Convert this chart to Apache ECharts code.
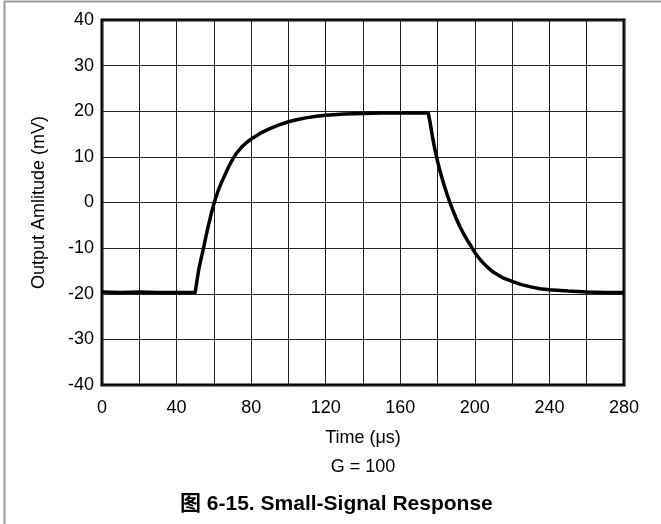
<!DOCTYPE html>
<html>
<head>
<meta charset="utf-8">
<script src="https://cdn.jsdelivr.net/npm/echarts@6/dist/echarts.min.js"></script>
<style>
html,body{margin:0;padding:0;background:#fff;}
#c{width:661px;height:524px;}
</style>
</head>
<body>
<div id="c"></div>
<script>
// Time (µs)
const timeUs = [0, 10, 20, 30, 40, 50,
  51, 52, 53, 54, 55, 56, 57, 58, 59, 60, 61, 62, 63, 64, 66, 68, 70, 72, 75, 78, 80, 85, 90, 95, 100, 105, 110, 115, 120, 130, 140, 150, 160, 170, 175,
  176, 177, 178, 179, 180, 181, 182, 183, 184, 185, 186, 187, 188, 190, 192, 194, 196, 198, 200, 203, 206, 210, 215, 220, 225, 230, 235, 240, 250, 260, 270, 280];
// Output amplitude (mV)
const outputMv = [-19.6, -19.7, -19.6, -19.7, -19.7, -19.7,
  -17.0, -14.5, -12.6, -10.8, -8.9, -7.0, -5.2, -3.5, -1.8, -0.3, 1.0, 2.2, 3.3, 4.3, 6.1, 7.9, 9.4, 10.7, 12.2, 13.3, 13.9, 15.2, 16.2, 17.0, 17.7, 18.2, 18.6, 18.9, 19.1, 19.4, 19.5, 19.6, 19.6, 19.6, 19.6,
  17.5, 15.0, 12.8, 10.8, 9.0, 7.4, 5.9, 4.5, 3.2, 1.9, 0.7, -0.4, -1.5, -3.5, -5.3, -6.9, -8.3, -9.6, -11.0, -12.6, -13.9, -15.3, -16.5, -17.3, -18.0, -18.5, -18.9, -19.1, -19.4, -19.6, -19.7, -19.7];
const xTickLabels = ['0', '40', '80', '120', '160', '200', '240', '280'];
const yTickLabels = ['-40', '-30', '-20', '-10', '0', '10', '20', '30', '40'];
const xTitle = 'Time (\u03bcs)';
const yTitle = 'Output Amlitude (mV)';
const note = 'G = 100';
const caption = '\u56fe 6-15. Small-Signal Response';

const FONT = "Arial, 'Liberation Sans', 'Noto Sans CJK SC', sans-serif";
const chart = echarts.init(document.getElementById('c'), null, {renderer: 'canvas'});
const pts = timeUs.map((t, i) => [t, outputMv[i]]);

chart.setOption({
  animation: false,
  backgroundColor: '#fff',
  grid: {left: 102, top: 20, width: 522, height: 365, show: true, borderColor: '#000', borderWidth: 3, backgroundColor: 'transparent'},
  xAxis: {
    type: 'value', min: 0, max: 280, interval: 20,
    name: xTitle, nameLocation: 'middle', nameGap: 44,
    nameTextStyle: {color: '#000', fontSize: 18, fontFamily: FONT},
    axisLine: {show: false}, axisTick: {show: false},
    axisLabel: {color: '#000', fontSize: 18, fontFamily: FONT, margin: 14,
      formatter: v => xTickLabels.includes(String(v)) ? String(v) : ''},
    splitLine: {show: true, lineStyle: {color: '#222', width: 1}}
  },
  yAxis: {
    type: 'value', min: -40, max: 40, interval: 10,
    name: yTitle, nameLocation: 'middle', nameGap: 54,
    nameTextStyle: {color: '#000', fontSize: 18, fontFamily: FONT},
    axisLine: {show: false}, axisTick: {show: false},
    axisLabel: {color: '#000', fontSize: 18, fontFamily: FONT, margin: 8,
      formatter: v => yTickLabels.includes(String(v)) ? String(v) : ''},
    splitLine: {show: true, lineStyle: {color: '#222', width: 1}}
  },
  series: [{
    type: 'line', data: pts, showSymbol: false, smooth: false,
    lineStyle: {color: '#000', width: 3.5, join: 'round'}, z: 5
  }],
  graphic: [
    {type: 'rect', shape: {x: 4.5, y: 1.5, width: 720, height: 600}, style: {fill: 'none', stroke: '#9a9a9a', lineWidth: 2}, silent: true},
    {type: 'text', x: 363, y: 467, style: {text: note, fill: '#000', font: '18px ' + FONT, textAlign: 'center', textVerticalAlign: 'middle'}},
    {type: 'text', x: 180, y: 504, style: {text: caption, fill: '#000', font: 'bold 21px ' + FONT, textAlign: 'left', textVerticalAlign: 'middle'}}
  ]
});
</script>
</body>
</html>
